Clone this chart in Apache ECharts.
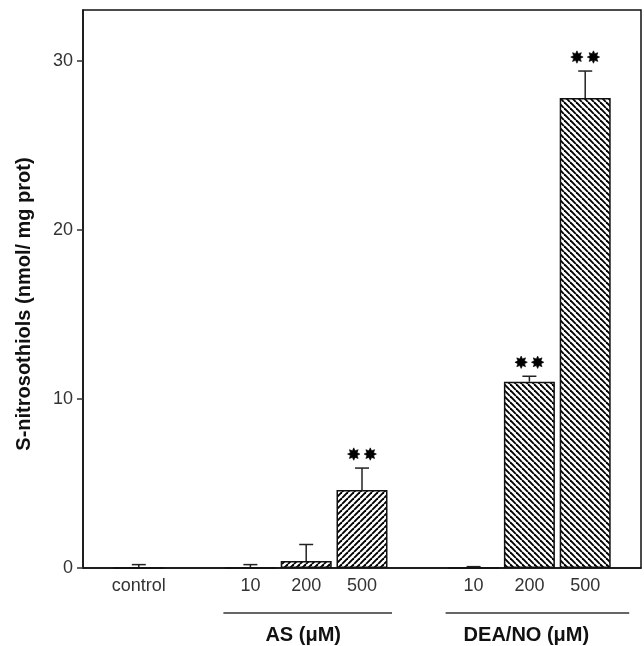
<!DOCTYPE html>
<html>
<head>
<meta charset="utf-8">
<script src="https://cdn.jsdelivr.net/npm/echarts@6/dist/echarts.min.js"></script>
<style>html,body{margin:0;padding:0;background:#fff;}#c{width:644px;height:646px;}</style>
</head>
<body>
<div id="c"></div>
<script>
// ---- data ----
var categories = ['', 'control', '', 'AS 10', 'AS 200', 'AS 500', '', 'DEA 10', 'DEA 200', 'DEA 500', ''];
var tickLabels = ['', 'control', '', '10', '200', '500', '', '10', '200', '500', ''];
var treatment  = ['', 'control', '', 'AS', 'AS', 'AS', '', 'DEA', 'DEA', 'DEA', ''];
var means      = [null, 0, null, 0, 0.41, 4.62, null, 0, 11.02, 27.8, null];
var upperErr   = [null, 0.2, null, 0.2, 1.39, 5.91, null, 0.08, 11.34, 29.39, null];
var stars      = [0, 0, 0, 0, 0, 2, 0, 0, 2, 2, 0];
var yTicks = [0, 10, 20, 30];
var yName = 'S-nitrosothiols (nmol/ mg prot)';
var groups = [
  { name: 'AS (\u03bcM)', first: 3, last: 5, padL: 27, padR: 30 },
  { name: 'DEA/NO (\u03bcM)', first: 7, last: 9, padL: 28, padR: 44 }
];

function hatch(dir) {
  var p = 6, cv = document.createElement('canvas');
  cv.width = p; cv.height = p;
  var g = cv.getContext('2d');
  g.fillStyle = '#fff'; g.fillRect(0, 0, p, p);
  g.strokeStyle = '#000'; g.lineWidth = 1.9;
  for (var k = -1; k <= 1; k++) {
    g.beginPath();
    if (dir > 0) { g.moveTo(k * p, p); g.lineTo(k * p + p, 0); }
    else { g.moveTo(k * p, 0); g.lineTo(k * p + p, p); }
    g.stroke();
  }
  return { image: cv, repeat: 'repeat' };
}
var patterns = { control: '#fff', AS: hatch(1), DEA: hatch(-1) };

var barData = means.map(function (v, i) {
  if (v === null) return null;
  return { value: v, itemStyle: { color: patterns[treatment[i]] } };
});
var errData = [];
means.forEach(function (v, i) { if (v !== null) errData.push([i, v, upperErr[i]]); });
var starData = [];
stars.forEach(function (n, i) { if (n > 0) starData.push([i, upperErr[i], n]); });

function starPoints(cx, cy, R, r, n) {
  var pts = [];
  for (var k = 0; k < 2 * n; k++) {
    var a = Math.PI * k / n - Math.PI / 2;
    var rr = (k % 2 === 0) ? R : r;
    pts.push([cx + rr * Math.cos(a), cy + rr * Math.sin(a)]);
  }
  return pts;
}

var chart = echarts.init(document.getElementById('c'), null, { renderer: 'canvas' });
var option = {
  animation: false,
  backgroundColor: '#fff',
  grid: { left: 83, right: 2, top: 10, bottom: 78, show: true, borderColor: '#111', borderWidth: 1.5, backgroundColor: 'transparent' },
  xAxis: {
    type: 'category', data: categories, boundaryGap: false,
    axisLine: { lineStyle: { color: '#111', width: 1.5 } },
    axisTick: { show: false },
    axisLabel: { interval: 0, margin: 9, color: '#333', fontSize: 18, fontFamily: 'Liberation Sans, Arial, sans-serif',
      formatter: function (v, i) { return tickLabels[i]; } },
    splitLine: { show: false }
  },
  yAxis: {
    type: 'value', min: 0, max: 33, interval: 10,
    name: yName, nameLocation: 'middle', nameGap: 49,
    nameTextStyle: { fontSize: 20, fontWeight: 'bold', color: '#111', fontFamily: 'Liberation Sans, Arial, sans-serif', padding: [0, 30, 0, 0] },
    axisLine: { show: true, lineStyle: { color: '#111', width: 1.5 } },
    axisTick: { show: true, length: 6, customValues: yTicks, lineStyle: { color: '#333', width: 1.5 } },
    axisLabel: { margin: 10, color: '#333', fontSize: 18, fontFamily: 'Liberation Sans, Arial, sans-serif', customValues: yTicks },
    splitLine: { show: false }
  },
  series: [
    {
      type: 'bar', data: barData, barWidth: 51,
      itemStyle: { borderColor: '#111', borderWidth: 1.5 },
      z: 2
    },
    {
      type: 'custom', data: errData, z: 1,
      renderItem: function (params, api) {
        var i = api.value(0);
        var base = api.coord([i, api.value(1)]);
        var top = api.coord([i, api.value(2)]);
        var w = 7;
        return {
          type: 'group', children: [
            { type: 'line', shape: { x1: base[0], y1: base[1], x2: top[0], y2: top[1] }, style: { stroke: '#222', lineWidth: 1.5 } },
            { type: 'line', shape: { x1: top[0] - w, y1: top[1], x2: top[0] + w, y2: top[1] }, style: { stroke: '#222', lineWidth: 1.5 } }
          ]
        };
      }
    },
    {
      type: 'custom', data: starData, z: 3,
      renderItem: function (params, api) {
        var i = api.value(0), n = api.value(2);
        var pt = api.coord([i, api.value(1)]);
        var children = [];
        for (var k = 0; k < n; k++) {
          var cx = pt[0] + (k - (n - 1) / 2) * 16.5;
          children.push({ type: 'polygon', shape: { points: starPoints(cx, pt[1] - 14, 6.2, 3.6, 8) }, style: { fill: '#000', stroke: '#000', lineWidth: 0.6 } });
        }
        return { type: 'group', children: children };
      }
    }
  ]
};
chart.setOption(option);

// group brackets below the axis
var baseY = chart.convertToPixel({ yAxisIndex: 0 }, 0);
var gfx = [];
groups.forEach(function (g) {
  var a = chart.convertToPixel({ xAxisIndex: 0 }, g.first);
  var b = chart.convertToPixel({ xAxisIndex: 0 }, g.last);
  gfx.push({ type: 'line', shape: { x1: a - g.padL, y1: baseY + 45, x2: b + g.padR, y2: baseY + 45 }, style: { stroke: '#333', lineWidth: 1.5 } });
  gfx.push({ type: 'text', x: (a + b) / 2 - 3, y: baseY + 67, style: { text: g.name, fontSize: 20, fontWeight: 'bold', fill: '#111', fontFamily: 'Liberation Sans, Arial, sans-serif', align: 'center', verticalAlign: 'middle' } });
});
chart.setOption({ graphic: gfx });
</script>
</body>
</html>
